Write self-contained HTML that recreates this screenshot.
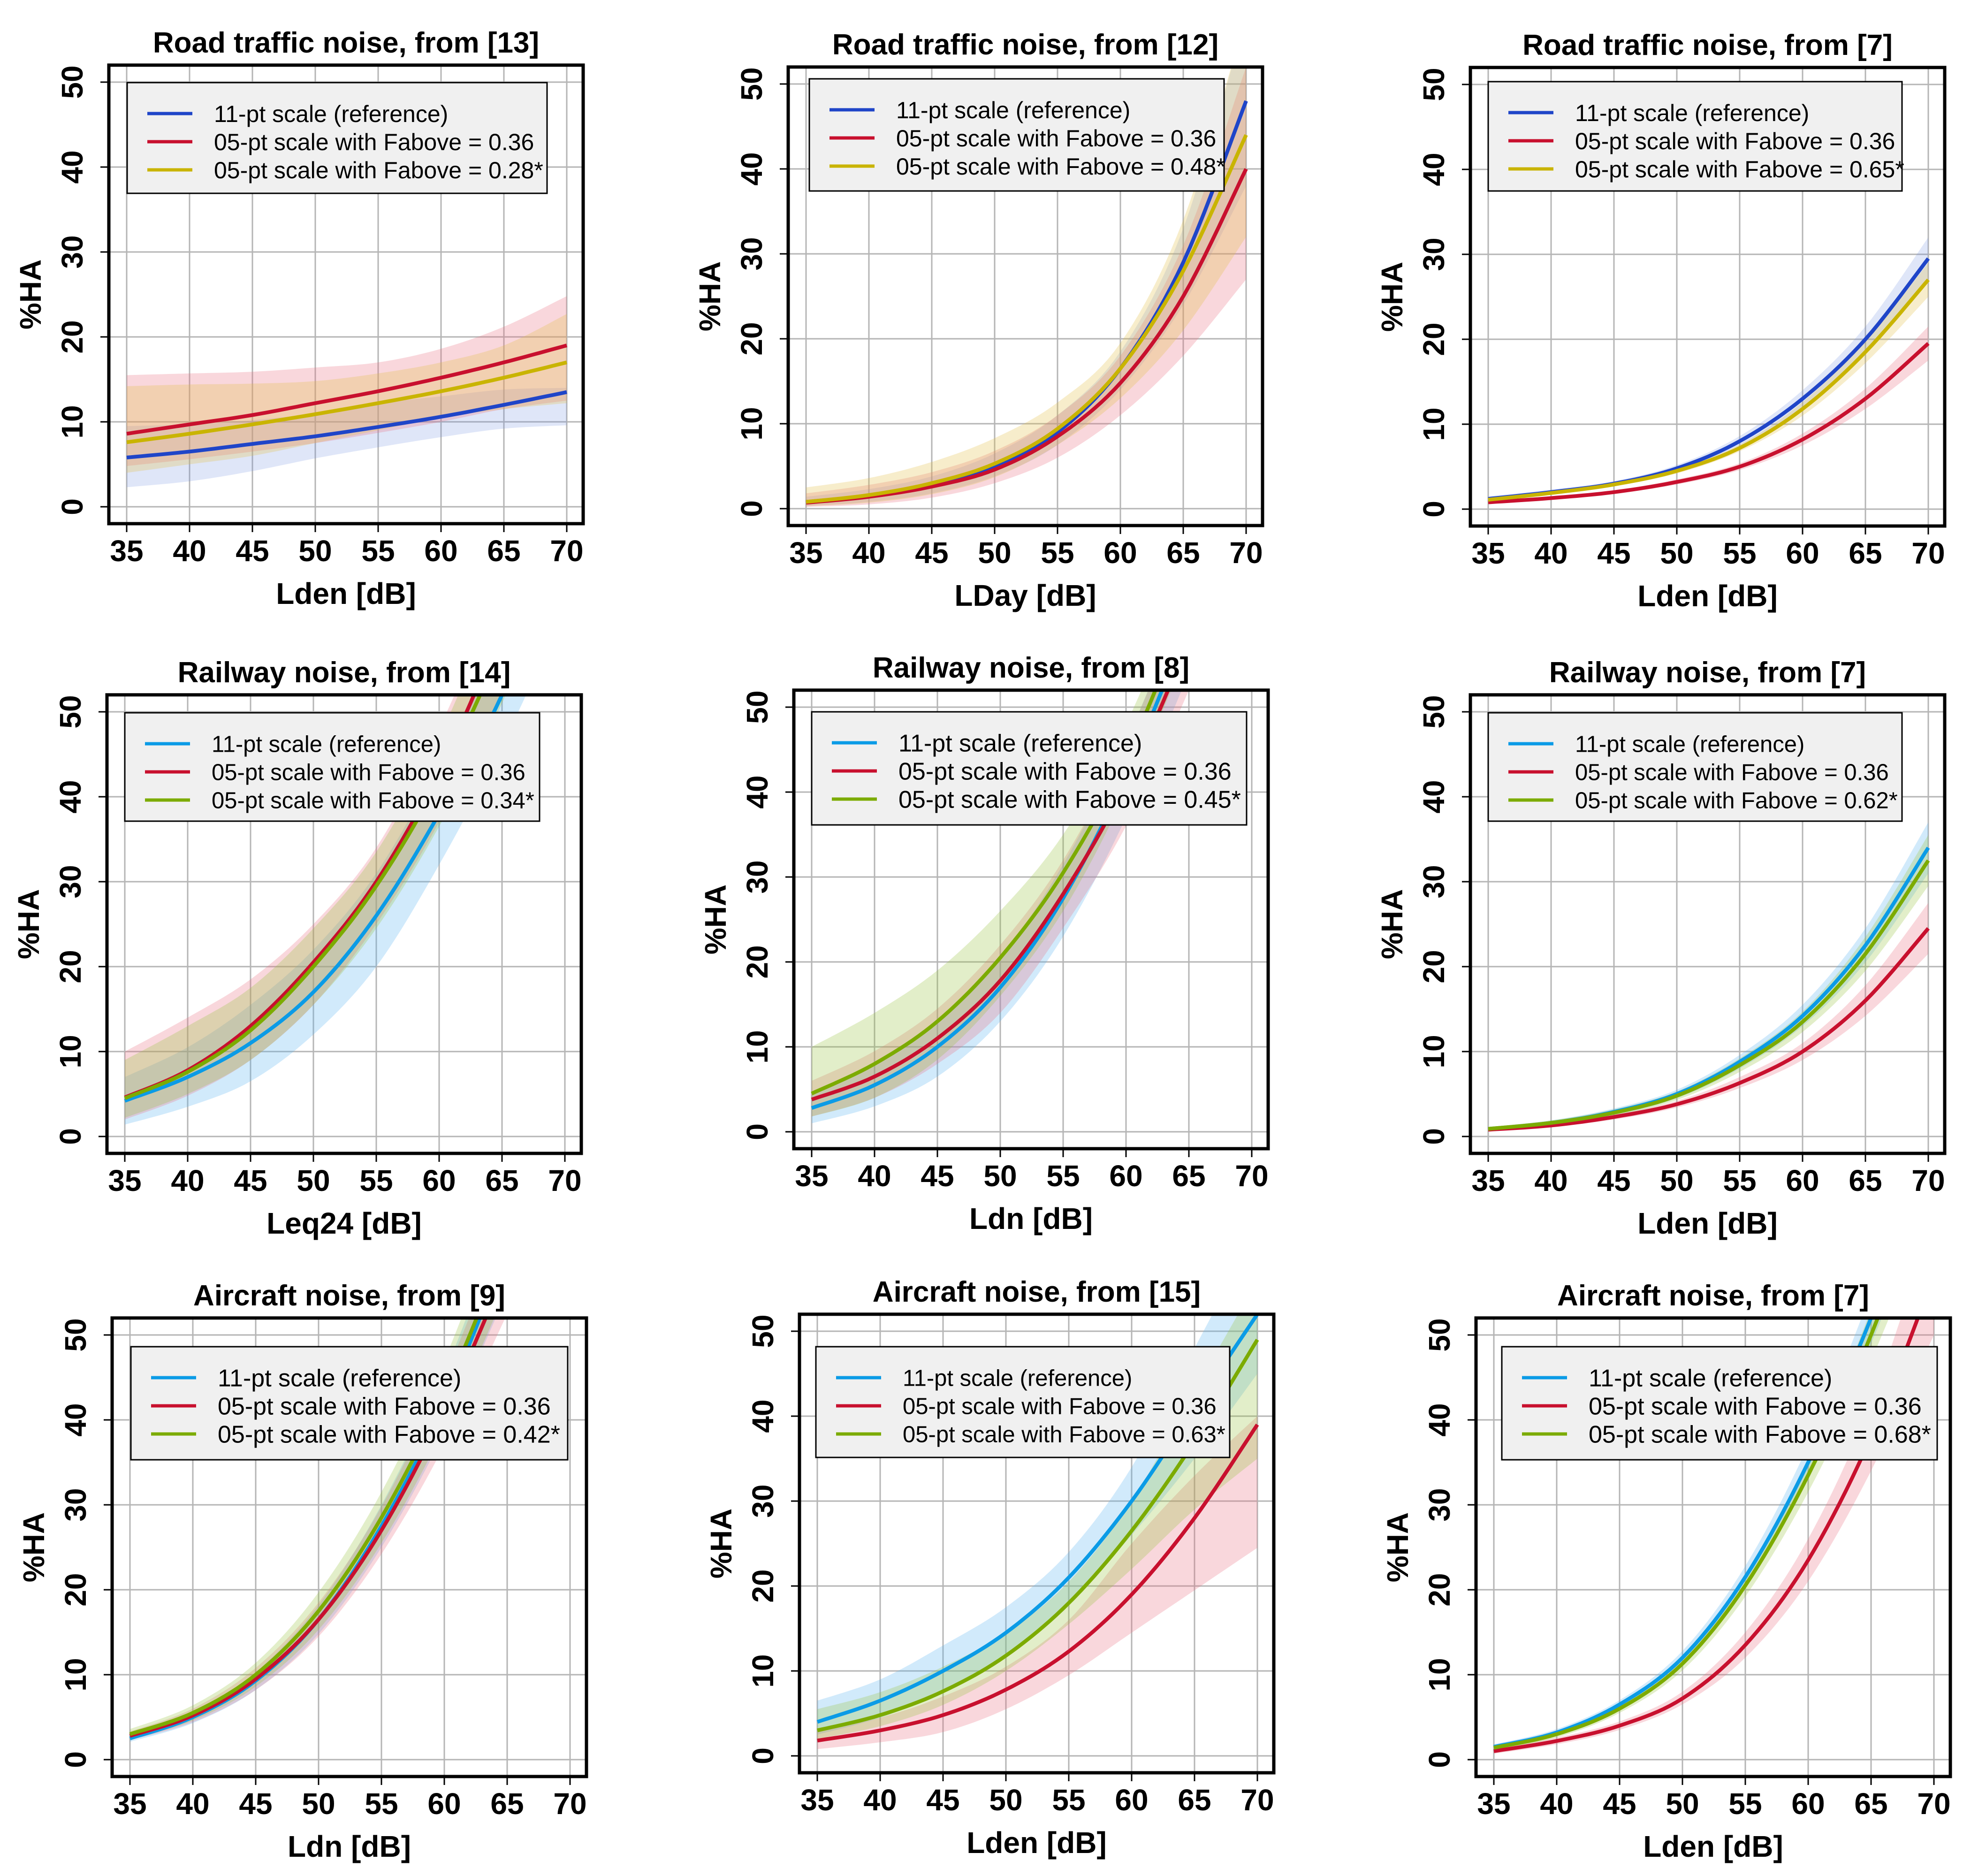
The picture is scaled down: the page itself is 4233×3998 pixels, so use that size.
<!DOCTYPE html>
<html><head><meta charset="utf-8"><title>%HA exposure-response curves</title>
<style>
html,body{margin:0;padding:0;background:#fff;}
svg{display:block;font-family:"Liberation Sans",Arial,sans-serif;}
</style></head>
<body>
<svg id="fig" xmlns="http://www.w3.org/2000/svg" width="4233" height="3998" viewBox="0 0 4233 3998"></svg>
<script>
// ---- shared axis data ----
const dB = [35, 40, 45, 50, 55, 60, 65, 70];
const xTickLabels = ["35","40","45","50","55","60","65","70"];
const yTicks = [0, 10, 20, 30, 40, 50];

// ---- panel 1: Road traffic [13] ----
const p1Blue = [5.8, 6.5, 7.4, 8.3, 9.4, 10.6, 12.0, 13.5];
const p1BlueLo = [2.3, 3.0, 4.2, 5.7, 7.0, 8.2, 9.2, 9.6];
const p1BlueHi = [9.5, 9.7, 10.2, 11.0, 12.2, 13.0, 13.8, 14.0];
const p1Red = [8.6, 9.7, 10.8, 12.2, 13.6, 15.2, 17.0, 19.0];
const p1RedLo = [4.8, 5.6, 6.5, 7.5, 8.7, 10.0, 11.5, 12.5];
const p1RedHi = [15.5, 15.7, 15.9, 16.4, 17.0, 18.6, 21.2, 24.8];
const p1Yel = [7.6, 8.6, 9.7, 10.9, 12.2, 13.6, 15.2, 17.0];
const p1YelLo = [4.0, 5.0, 6.0, 7.5, 9.0, 10.5, 11.5, 12.2];
const p1YelHi = [14.2, 14.4, 14.5, 14.8, 15.7, 17.0, 19.0, 22.7];

// ---- panel 2: Road traffic [12] ----
const p2Blue = [0.8, 1.5, 2.7, 5.0, 9.0, 16.5, 29.0, 48.0];
const p2BlueLo = [0.3, 0.8, 1.8, 3.8, 7.5, 14.0, 24.0, 38.0];
const p2BlueHi = [1.4, 2.3, 3.8, 6.5, 11.0, 18.5, 33.0, 58.0];
const p2Red = [0.7, 1.4, 2.6, 4.6, 8.5, 14.8, 25.0, 40.0];
const p2RedLo = [0.2, 0.5, 1.3, 3.0, 6.0, 11.0, 18.0, 27.0];
const p2RedHi = [1.8, 2.8, 4.3, 6.8, 11.0, 18.0, 31.0, 52.0];
const p2Yel = [0.8, 1.6, 3.0, 5.3, 9.4, 16.5, 28.0, 44.0];
const p2YelLo = [0.3, 0.7, 1.7, 3.7, 7.5, 13.0, 21.0, 32.0];
const p2YelHi = [2.5, 3.6, 5.5, 8.3, 12.5, 19.5, 34.0, 58.0];

// ---- panel 3: Road traffic [7] ----
const p3Blue = [1.2, 2.0, 3.0, 4.8, 8.0, 13.0, 20.0, 29.5];
const p3BlueLo = [0.9, 1.7, 2.7, 4.4, 7.4, 12.0, 18.5, 27.0];
const p3BlueHi = [1.5, 2.3, 3.3, 5.2, 8.6, 14.0, 21.5, 32.0];
const p3Red = [0.8, 1.3, 2.0, 3.2, 5.0, 8.2, 13.0, 19.5];
const p3RedLo = [0.6, 1.1, 1.8, 2.9, 4.6, 7.5, 11.8, 17.5];
const p3RedHi = [1.0, 1.5, 2.2, 3.5, 5.4, 8.9, 14.2, 21.5];
const p3Yel = [1.1, 1.9, 2.9, 4.5, 7.2, 11.8, 18.5, 27.0];
const p3YelLo = [0.9, 1.7, 2.7, 4.2, 6.8, 11.0, 17.2, 25.0];
const p3YelHi = [1.3, 2.1, 3.1, 4.8, 7.6, 12.6, 19.8, 29.0];

// ---- panel 4: Railway [14] ----
const p4Blue = [4.2, 7.0, 11.0, 17.0, 26.0, 38.0, 52.0, 70.0];
const p4BlueLo = [1.4, 3.5, 6.5, 12.0, 20.0, 32.0, 46.0, 62.0];
const p4BlueHi = [7.0, 10.5, 15.5, 22.0, 31.0, 44.0, 60.0, 80.0];
const p4Red = [4.6, 7.8, 13.0, 20.5, 30.0, 43.0, 60.0, 80.0];
const p4RedLo = [2.0, 4.8, 9.0, 15.5, 25.0, 37.0, 52.0, 70.0];
const p4RedHi = [10.0, 14.0, 18.5, 25.0, 34.0, 48.0, 66.0, 90.0];
const p4Grn = [4.5, 7.6, 12.5, 20.0, 29.5, 42.0, 58.0, 78.0];
const p4GrnLo = [2.2, 5.0, 9.0, 15.5, 24.5, 36.5, 51.0, 69.0];
const p4GrnHi = [9.0, 13.0, 17.5, 24.5, 33.5, 47.0, 65.0, 88.0];

// ---- panel 5: Railway [8] ----
const p5Blue = [2.8, 5.5, 10.0, 17.0, 27.5, 42.0, 60.0, 80.0];
const p5BlueLo = [1.0, 3.0, 6.5, 13.0, 23.0, 37.0, 54.0, 72.0];
const p5BlueHi = [4.5, 8.0, 13.0, 20.5, 31.5, 46.0, 64.0, 85.0];
const p5Red = [3.8, 6.5, 11.0, 17.8, 28.0, 41.0, 58.0, 78.0];
const p5RedLo = [1.8, 4.0, 8.0, 14.0, 24.0, 36.0, 52.0, 70.0];
const p5RedHi = [6.0, 9.5, 14.5, 22.0, 32.0, 46.0, 64.0, 85.0];
const p5Grn = [4.5, 8.0, 13.0, 20.5, 30.5, 44.0, 62.0, 82.0];
const p5GrnLo = [1.8, 4.0, 8.5, 16.0, 26.0, 40.0, 57.0, 76.0];
const p5GrnHi = [10.0, 14.0, 19.0, 26.0, 35.0, 48.0, 66.0, 88.0];

// ---- panel 6: Railway [7] ----
const p6Blue = [0.9, 1.6, 2.9, 5.0, 8.8, 14.2, 22.5, 34.0];
const p6BlueLo = [0.7, 1.3, 2.5, 4.5, 8.0, 13.0, 20.5, 31.0];
const p6BlueHi = [1.1, 1.9, 3.3, 5.5, 9.6, 15.5, 24.5, 37.0];
const p6Red = [0.8, 1.3, 2.3, 3.8, 6.3, 10.0, 16.0, 24.5];
const p6RedLo = [0.6, 1.1, 2.0, 3.4, 5.7, 9.0, 14.2, 21.5];
const p6RedHi = [1.0, 1.5, 2.6, 4.2, 7.0, 11.0, 17.8, 27.5];
const p6Grn = [0.9, 1.6, 2.8, 4.8, 8.4, 13.5, 21.5, 32.5];
const p6GrnLo = [0.7, 1.3, 2.4, 4.3, 7.6, 12.3, 19.5, 29.5];
const p6GrnHi = [1.1, 1.9, 3.2, 5.3, 9.2, 14.7, 23.5, 35.5];

// ---- panel 7: Aircraft [9] ----
const p7Blue = [2.5, 5.0, 9.3, 16.5, 27.5, 42.0, 60.0, 78.0];
const p7BlueLo = [2.1, 4.3, 8.2, 14.8, 25.0, 38.5, 55.0, 71.0];
const p7BlueHi = [2.9, 5.6, 10.3, 18.2, 30.0, 45.5, 65.0, 85.0];
const p7Red = [2.8, 5.2, 9.5, 16.5, 27.0, 41.0, 58.0, 76.0];
const p7RedLo = [2.3, 4.4, 8.2, 14.5, 24.2, 37.0, 52.5, 69.0];
const p7RedHi = [3.3, 6.0, 10.8, 18.5, 29.8, 45.0, 63.5, 83.0];
const p7Grn = [3.0, 5.5, 10.0, 17.5, 28.5, 43.0, 61.0, 80.0];
const p7GrnLo = [2.4, 4.6, 8.6, 15.3, 25.5, 39.0, 55.5, 73.0];
const p7GrnHi = [3.6, 6.4, 11.4, 19.7, 31.5, 47.0, 66.5, 87.0];

// ---- panel 8: Aircraft [15] ----
const p8Blue = [4.0, 6.5, 10.0, 14.5, 21.0, 30.0, 41.0, 52.0];
const p8BlueLo = [2.5, 4.5, 7.5, 12.0, 18.0, 26.0, 35.0, 45.0];
const p8BlueHi = [6.5, 9.0, 13.0, 17.5, 24.0, 34.0, 48.0, 62.0];
const p8Red = [1.8, 3.0, 4.8, 7.8, 12.3, 19.0, 28.0, 39.0];
const p8RedLo = [0.8, 1.6, 2.8, 5.5, 9.5, 14.5, 19.5, 24.5];
const p8RedHi = [3.0, 4.5, 7.0, 10.5, 16.0, 25.0, 33.0, 40.0];
const p8Grn = [3.0, 4.8, 7.6, 11.8, 18.0, 26.5, 37.0, 49.0];
const p8GrnLo = [2.0, 3.5, 6.0, 10.0, 15.5, 22.0, 29.0, 35.0];
const p8GrnHi = [5.5, 7.5, 10.5, 14.5, 20.5, 30.0, 43.0, 56.0];

// ---- panel 9: Aircraft [7] ----
const p9Blue = [1.5, 3.2, 6.5, 12.0, 21.5, 35.0, 52.0, 72.0];
const p9BlueLo = [1.2, 2.8, 6.0, 11.2, 20.2, 33.0, 49.0, 67.0];
const p9BlueHi = [1.8, 3.6, 7.0, 12.8, 22.8, 37.0, 55.0, 77.0];
const p9Red = [1.0, 2.2, 4.0, 7.2, 13.5, 23.5, 38.0, 57.0];
const p9RedLo = [0.7, 1.8, 3.5, 6.5, 12.0, 21.0, 34.0, 50.0];
const p9RedHi = [1.3, 2.6, 4.5, 8.0, 15.0, 26.0, 42.0, 64.0];
const p9Grn = [1.4, 3.0, 6.0, 11.3, 20.5, 33.5, 50.0, 70.0];
const p9GrnLo = [1.1, 2.6, 5.5, 10.5, 19.2, 31.5, 47.0, 65.0];
const p9GrnHi = [1.7, 3.4, 6.5, 12.1, 21.8, 35.5, 53.0, 75.0];

const ROAD_BLUE = "#1f45c8", SKY = "#0b9be6", RED = "#c8102e", YEL = "#c9b400", GRN = "#7cab00";
const F_ROAD_BLUE = "rgba(110,140,225,0.22)", F_SKY = "rgba(90,180,240,0.28)",
      F_RED = "rgba(235,110,130,0.28)", F_YEL = "rgba(225,190,70,0.28)", F_GRN = "rgba(150,195,60,0.28)";

function ser(mean, lo, hi, color, fill, label, key) { return {mean, lo, hi, color, fill, label, key}; }

const panels = [
 {key:"road-13", title:"Road traffic noise, from [13]", xlab:"Lden [dB]", X35:270, Y0:1080, lg:[271,176,895,236,50],
  s:[ser(p1Blue,p1BlueLo,p1BlueHi,ROAD_BLUE,F_ROAD_BLUE,"11-pt scale (reference)","ref"),
     ser(p1Red,p1RedLo,p1RedHi,RED,F_RED,"05-pt scale with Fabove = 0.36","f036"),
     ser(p1Yel,p1YelLo,p1YelHi,YEL,F_YEL,"05-pt scale with Fabove = 0.28*","fopt")]},
 {key:"road-12", title:"Road traffic noise, from [12]", xlab:"LDay [dB]", X35:1718, Y0:1084, lg:[1725,168,884,239,50],
  s:[ser(p2Blue,p2BlueLo,p2BlueHi,ROAD_BLUE,F_ROAD_BLUE,"11-pt scale (reference)","ref"),
     ser(p2Red,p2RedLo,p2RedHi,RED,F_RED,"05-pt scale with Fabove = 0.36","f036"),
     ser(p2Yel,p2YelLo,p2YelHi,YEL,F_YEL,"05-pt scale with Fabove = 0.48*","fopt")]},
 {key:"road-7", title:"Road traffic noise, from [7]", xlab:"Lden [dB]", X35:3172, Y0:1085, lg:[3172,174,882,233,50],
  s:[ser(p3Blue,p3BlueLo,p3BlueHi,ROAD_BLUE,F_ROAD_BLUE,"11-pt scale (reference)","ref"),
     ser(p3Red,p3RedLo,p3RedHi,RED,F_RED,"05-pt scale with Fabove = 0.36","f036"),
     ser(p3Yel,p3YelLo,p3YelHi,YEL,F_YEL,"05-pt scale with Fabove = 0.65*","fopt")]},
 {key:"rail-14", title:"Railway noise, from [14]", xlab:"Leq24 [dB]", X35:266, Y0:2422, lg:[266,1519,884,231,49],
  s:[ser(p4Blue,p4BlueLo,p4BlueHi,SKY,F_SKY,"11-pt scale (reference)","ref"),
     ser(p4Red,p4RedLo,p4RedHi,RED,F_RED,"05-pt scale with Fabove = 0.36","f036"),
     ser(p4Grn,p4GrnLo,p4GrnHi,GRN,F_GRN,"05-pt scale with Fabove = 0.34*","fopt")]},
 {key:"rail-8", title:"Railway noise, from [8]", xlab:"Ldn [dB]", X35:1730, Y0:2412, lg:[1730,1517,927,241,52],
  s:[ser(p5Blue,p5BlueLo,p5BlueHi,SKY,F_SKY,"11-pt scale (reference)","ref"),
     ser(p5Red,p5RedLo,p5RedHi,RED,F_RED,"05-pt scale with Fabove = 0.36","f036"),
     ser(p5Grn,p5GrnLo,p5GrnHi,GRN,F_GRN,"05-pt scale with Fabove = 0.45*","fopt")]},
 {key:"rail-7", title:"Railway noise, from [7]", xlab:"Lden [dB]", X35:3172, Y0:2422, lg:[3172,1519,882,231,49],
  s:[ser(p6Blue,p6BlueLo,p6BlueHi,SKY,F_SKY,"11-pt scale (reference)","ref"),
     ser(p6Red,p6RedLo,p6RedHi,RED,F_RED,"05-pt scale with Fabove = 0.36","f036"),
     ser(p6Grn,p6GrnLo,p6GrnHi,GRN,F_GRN,"05-pt scale with Fabove = 0.62*","fopt")]},
 {key:"air-9", title:"Aircraft noise, from [9]", xlab:"Ldn [dB]", X35:277, Y0:3750, lg:[279,2870,931,241,52],
  s:[ser(p7Blue,p7BlueLo,p7BlueHi,SKY,F_SKY,"11-pt scale (reference)","ref"),
     ser(p7Red,p7RedLo,p7RedHi,RED,F_RED,"05-pt scale with Fabove = 0.36","f036"),
     ser(p7Grn,p7GrnLo,p7GrnHi,GRN,F_GRN,"05-pt scale with Fabove = 0.42*","fopt")]},
 {key:"air-15", title:"Aircraft noise, from [15]", xlab:"Lden [dB]", X35:1742, Y0:3742, lg:[1739,2870,882,236,49],
  s:[ser(p8Blue,p8BlueLo,p8BlueHi,SKY,F_SKY,"11-pt scale (reference)","ref"),
     ser(p8Red,p8RedLo,p8RedHi,RED,F_RED,"05-pt scale with Fabove = 0.36","f036"),
     ser(p8Grn,p8GrnLo,p8GrnHi,GRN,F_GRN,"05-pt scale with Fabove = 0.63*","fopt")]},
 {key:"air-7", title:"Aircraft noise, from [7]", xlab:"Lden [dB]", X35:3184, Y0:3750, lg:[3201,2870,928,241,52],
  s:[ser(p9Blue,p9BlueLo,p9BlueHi,SKY,F_SKY,"11-pt scale (reference)","ref"),
     ser(p9Red,p9RedLo,p9RedHi,RED,F_RED,"05-pt scale with Fabove = 0.36","f036"),
     ser(p9Grn,p9GrnLo,p9GrnHi,GRN,F_GRN,"05-pt scale with Fabove = 0.68*","fopt")]}
];

const NS = "http://www.w3.org/2000/svg";
const svg = document.getElementById("fig");
function mk(tag, attrs, parent) {
  const e = document.createElementNS(NS, tag);
  for (const k in attrs) e.setAttribute(k, attrs[k]);
  (parent || svg).appendChild(e);
  return e;
}
const PX_PER_DB = 26.8, PX_PER_PCT = 18.1;

function smooth(xv, yv) {
  const out = [];
  const n = xv.length;
  for (let i = 0; i < n - 1; i++) {
    const x0 = xv[Math.max(i-1,0)], y0 = yv[Math.max(i-1,0)];
    const x1 = xv[i], y1 = yv[i], x2 = xv[i+1], y2 = yv[i+1];
    const x3 = xv[Math.min(i+2,n-1)], y3 = yv[Math.min(i+2,n-1)];
    for (let t = 0; t < 1; t += 0.1) {
      const t2 = t*t, t3 = t2*t;
      const f = (a,b,c,d) => 0.5*((2*b)+(-a+c)*t+(2*a-5*b+4*c-d)*t2+(-a+3*b-3*c+d)*t3);
      out.push([f(x0,x1,x2,x3), f(y0,y1,y2,y3)]);
    }
  }
  out.push([xv[n-1], yv[n-1]]);
  return out;
}

panels.forEach((p, pi) => {
  const xs = v => p.X35 + (v - 35) * PX_PER_DB;
  const ys = v => p.Y0 - v * PX_PER_PCT;
  const L = xs(35) - 38, R = xs(70) + 35, T = ys(52), B = ys(0) + 36;
  const g = mk("g", {});
  
  

  const cid = "clip" + pi;
  const cp = mk("clipPath", {id: cid}, g);
  mk("rect", {x: L, y: T, width: R - L, height: B - T}, cp);

  const grid = mk("g", {stroke: "#b5b5b5", "stroke-width": 3}, g);
  
  
  dB.forEach(v => mk("line", {x1: xs(v), x2: xs(v), y1: T, y2: B}, grid));
  yTicks.forEach(v => mk("line", {x1: L, x2: R, y1: ys(v), y2: ys(v)}, grid));

  const plot = mk("g", {"clip-path": "url(#" + cid + ")"}, g);
  p.s.forEach(s => {
    const up = smooth(dB, s.hi), dn = smooth(dB, s.lo).reverse();
    const pts = up.concat(dn).map(q => xs(q[0]).toFixed(1) + "," + ys(q[1]).toFixed(1)).join(" ");
    const band = mk("polygon", {points: pts, fill: s.fill}, plot);
    
    
  });
  p.s.forEach(s => {
    const pts = smooth(dB, s.mean).map(q => xs(q[0]).toFixed(1) + "," + ys(q[1]).toFixed(1)).join(" ");
    const ln = mk("polyline", {points: pts, fill: "none", stroke: s.color, "stroke-width": 8, "stroke-linejoin": "round"}, plot);
    
    
  });

  const [lx, ly, lw, lh, lf] = p.lg;
  const leg = mk("g", {}, g);
  
  
  mk("rect", {x: lx, y: ly, width: lw, height: lh, fill: "#f0f0f0", stroke: "#000", "stroke-width": 3}, leg);
  p.s.forEach((s, i) => {
    const cy = ly + 66 + i * 60;
    const ent = mk("g", {}, leg);
    
    
    mk("line", {x1: lx + 43, x2: lx + 139, y1: cy, y2: cy, stroke: s.color, "stroke-width": 7}, ent);
    const t = mk("text", {x: lx + 185, y: cy + lf * 0.36, "font-size": lf, fill: "#000"}, ent);
    t.textContent = s.label;
  });

  const box = mk("rect", {x: L, y: T, width: R - L, height: B - T, fill: "none", stroke: "#000", "stroke-width": 7}, g);
  
  

  const xa = mk("g", {}, g);
  
  
  dB.forEach((v, i) => {
    mk("line", {x1: xs(v), x2: xs(v), y1: B, y2: B + 18, stroke: "#000", "stroke-width": 3}, xa);
    const t = mk("text", {x: xs(v), y: B + 80, "font-size": 64, "font-weight": "bold", "text-anchor": "middle"}, xa);
    t.textContent = xTickLabels[i];
  });
  const xl = mk("text", {x: (L + R) / 2, y: B + 171, "font-size": 64, "font-weight": "bold", "text-anchor": "middle"}, g);
  xl.textContent = p.xlab;
  
  

  const ya = mk("g", {}, g);
  
  
  yTicks.forEach(v => {
    mk("line", {x1: L - 18, x2: L, y1: ys(v), y2: ys(v), stroke: "#000", "stroke-width": 3}, ya);
    const tx = L - 56, ty = ys(v);
    const t = mk("text", {x: tx, y: ty, "font-size": 64, "font-weight": "bold", "text-anchor": "middle",
      transform: "rotate(-90 " + tx + " " + ty + ")"}, ya);
    t.textContent = String(v);
  });
  const yx = L - 145, yy = (T + B) / 2;
  const yl = mk("text", {x: yx, y: yy, "font-size": 64, "font-weight": "bold", "text-anchor": "middle",
    transform: "rotate(-90 " + yx + " " + yy + ")"}, g);
  yl.textContent = "%HA";
  
  

  const tt = mk("text", {x: (L + R) / 2, y: T - 27, "font-size": 62, "font-weight": "bold", "text-anchor": "middle"}, g);
  tt.textContent = p.title;
  
  
});
</script>
</body></html>
